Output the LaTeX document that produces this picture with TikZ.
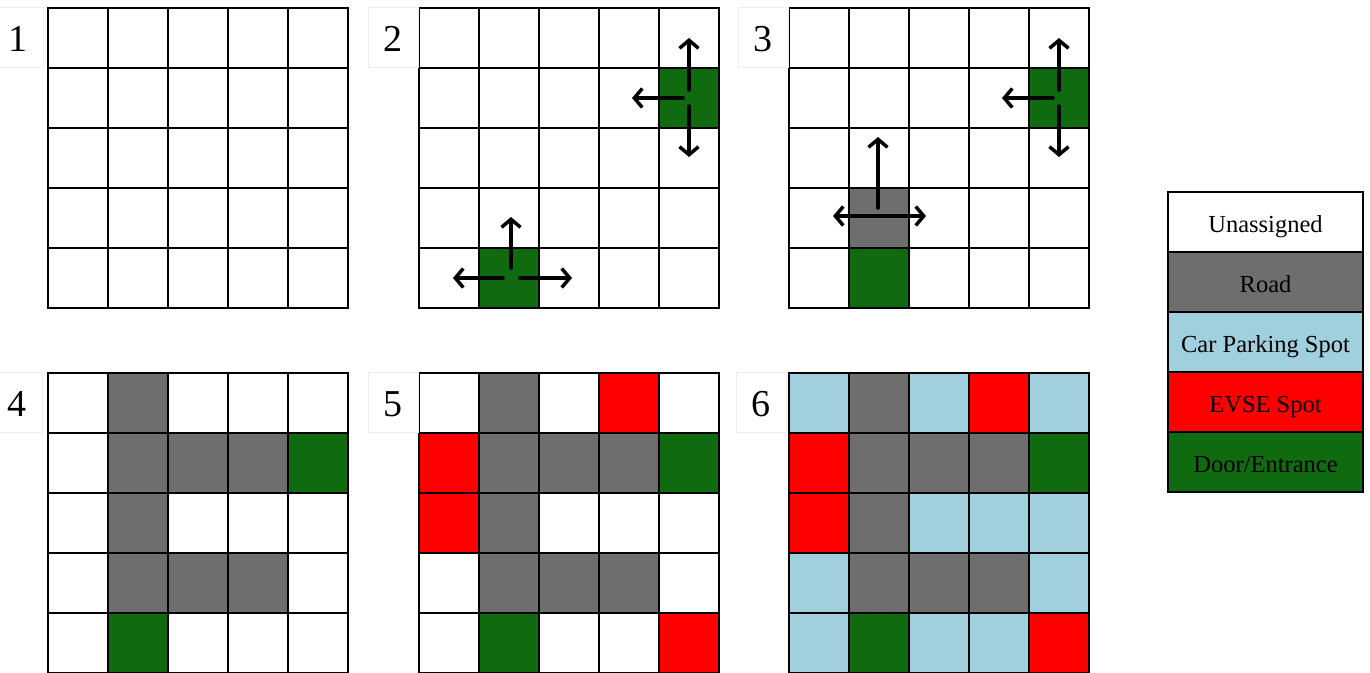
\documentclass[tikz,border=0pt]{standalone}
\usepackage{fontspec}
\setmainfont{Liberation Serif}
\usetikzlibrary{arrows.meta,calc}
\definecolor{doorgreen}{RGB}{16,106,16}
\definecolor{roadgray}{RGB}{110,110,110}
\definecolor{parkblue}{RGB}{160,207,222}
\definecolor{evsered}{RGB}{254,0,0}
\definecolor{lblborder}{RGB}{238,238,238}
\tikzset{
  cell/.style={draw=black, line width=1.3pt, minimum size=60pt, inner sep=0pt, outer sep=0pt},
  W/.style={cell, fill=white},
  R/.style={cell, fill=roadgray},
  B/.style={cell, fill=parkblue},
  E/.style={cell, fill=evsered},
  D/.style={cell, fill=doorgreen},
  outer/.style={draw=black, line width=2pt},
  lbl/.style={draw=lblborder, line width=0.6pt, fill=white, minimum width=50pt, minimum height=60pt, inner sep=0pt, text height=29pt, text depth=0pt, font=\fontsize{38}{42}\selectfont},
  leg/.style={draw=black, line width=1.5pt, minimum width=195pt, minimum height=60pt, inner sep=0pt, text height=20pt, text depth=0pt, font=\fontsize{24.5}{28}\selectfont},
  arr/.style={line width=3.5pt, line cap=round, -{Straight Barb[length=8pt,width=19pt,line width=3.5pt]}}
}
\newcommand\drawpanel[4]{%
  \foreach \s [count=\i from 0] in {#4} {
    \pgfmathtruncatemacro\rw{\i/5}
    \pgfmathtruncatemacro\cl{\i-5*\rw}
    \node[\s] (#1-\rw-\cl) at (#2+30+60*\cl, #3+30+60*\rw) {};
  }
  \draw[outer] (#2,#3) rectangle ++(300,300);
}
\begin{document}
\begin{tikzpicture}[x=1pt,y=-1pt]
\useasboundingbox (0,0) rectangle (1370,672);
\fill[white] (0,0) rectangle (1370,672);
% panels
\drawpanel{pa}{48}{8}{W,W,W,W,W, W,W,W,W,W, W,W,W,W,W, W,W,W,W,W, W,W,W,W,W}
\drawpanel{pb}{419}{8}{W,W,W,W,W, W,W,W,W,D, W,W,W,W,W, W,W,W,W,W, W,D,W,W,W}
\drawpanel{pc}{789}{8}{W,W,W,W,W, W,W,W,W,D, W,W,W,W,W, W,R,W,W,W, W,D,W,W,W}
\drawpanel{pd}{48}{373}{W,R,W,W,W, W,R,R,R,D, W,R,W,W,W, W,R,R,R,W, W,D,W,W,W}
\drawpanel{pe}{419}{373}{W,R,W,E,W, E,R,R,R,D, E,R,W,W,W, W,R,R,R,W, W,D,W,W,E}
\drawpanel{pf}{789}{373}{B,R,B,E,B, E,R,R,R,D, E,R,B,B,B, B,R,R,R,B, B,D,B,B,E}
% labels
\node[lbl] (l1) at (18,37) {1};
\node[lbl] (l2) at (393,37) {2};
\node[lbl] (l3) at (763,37) {3};
\node[lbl] (l4) at (17,402) {4};
\node[lbl] (l5) at (393,402) {5};
\node[lbl] (l6) at (761,402) {6};
% arrows panel 2
\draw[arr] ($(pb-1-4.center)+(0,-8)$) -- ++(0,-52);
\draw[arr] ($(pb-1-4.center)+(0,8)$) -- ++(0,51);
\draw[arr] ($(pb-1-4.center)+(-6,0)$) -- ++(-51,0);
\draw[arr] ($(pb-4-1.center)+(2,-10)$) -- ++(0,-51);
\draw[arr] ($(pb-4-1.center)+(-6,0)$) -- ++(-50,0);
\draw[arr] ($(pb-4-1.center)+(11,0)$) -- ++(52,0);
% arrows panel 3
\draw[arr] ($(pc-1-4.center)+(0,-8)$) -- ++(0,-52);
\draw[arr] ($(pc-1-4.center)+(0,8)$) -- ++(0,51);
\draw[arr] ($(pc-1-4.center)+(-6,0)$) -- ++(-51,0);
\draw[arr] ($(pc-3-1.center)+(-1,-10)$) -- ++(0,-71);
\draw[arr] ($(pc-3-1.center)+(0,-2)$) -- ++(-46,0);
\draw[arr] ($(pc-3-1.center)+(0,-2)$) -- ++(47,0);
% legend
\node[leg, fill=white] (g1) at (1265.5,222) {Unassigned};
\node[leg, fill=roadgray] (g2) at (1265.5,282) {Road};
\node[leg, fill=parkblue] (g3) at (1265.5,342) {Car Parking Spot};
\node[leg, fill=evsered] (g4) at (1265.5,402) {EVSE Spot};
\node[leg, fill=doorgreen] (g5) at (1265.5,462) {Door/Entrance};
\end{tikzpicture}
\end{document}
